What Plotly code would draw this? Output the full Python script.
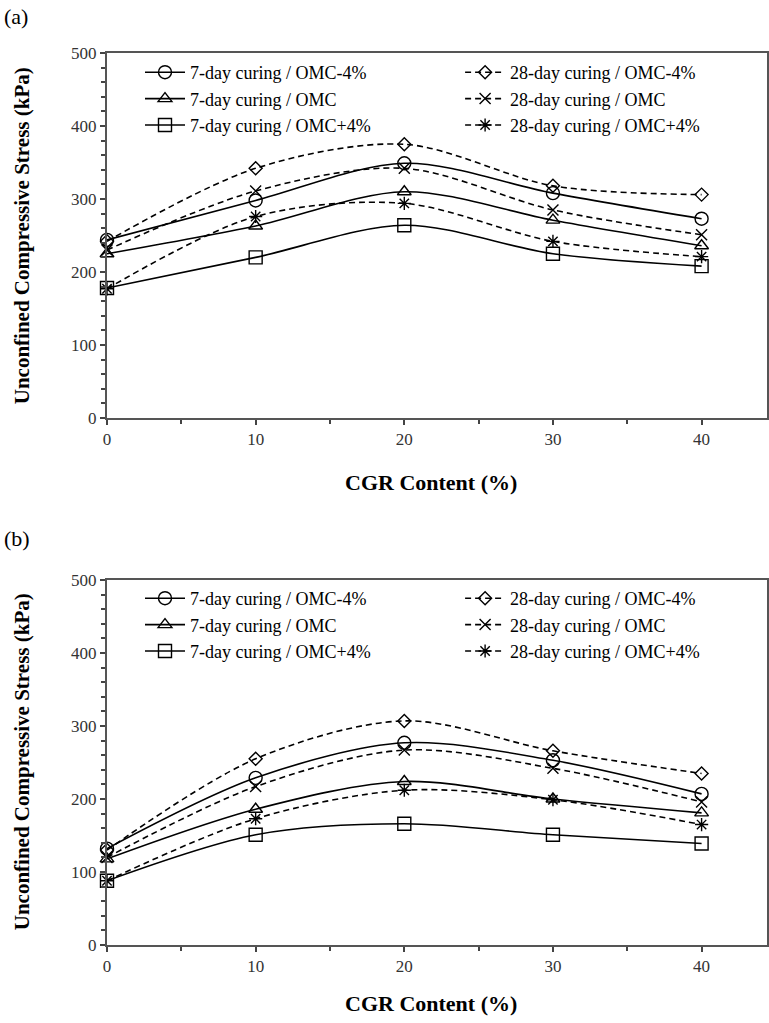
import plotly.graph_objects as go

cgr = [0, 10, 20, 30, 40]

# Panel (a)
a_7_m4 = [244, 298, 349, 308, 273]
a_7_0 = [225, 263, 310, 271, 236]
a_7_p4 = [178, 220, 264, 225, 208]
a_28_m4 = [242, 342, 375, 318, 306]
a_28_0 = [230, 311, 342, 285, 251]
a_28_p4 = [177, 276, 294, 242, 221]

# Panel (b)
b_7_m4 = [132, 229, 277, 253, 207]
b_7_0 = [118, 186, 224, 200, 181]
b_7_p4 = [88, 151, 166, 151, 139]
b_28_m4 = [130, 255, 307, 266, 235]
b_28_0 = [120, 217, 267, 242, 196]
b_28_p4 = [88, 173, 212, 199, 165]

names = ["7-day curing / OMC-4%", "7-day curing / OMC", "7-day curing / OMC+4%",
         "28-day curing / OMC-4%", "28-day curing / OMC", "28-day curing / OMC+4%"]
symbols = ["circle-open", "triangle-up-open", "square-open",
           "diamond-open", "x-thin-open", "asterisk-open"]
sizes = [13, 12, 13, 10, 11, 11]
dashes = ["solid", "solid", "solid", "6px,4px", "6px,4px", "6px,4px"]

FONT = "Liberation Serif, Times New Roman, serif"

fig = go.Figure()

def add_panel(series, yaxis, legs):
    for i, ys in enumerate(series):
        fig.add_trace(go.Scatter(
            x=cgr, y=ys, name=names[i], mode="lines+markers",
            xaxis="x" if yaxis == "y" else "x2", yaxis=yaxis,
            line=dict(color="black", width=1.6, dash=dashes[i], shape="spline", smoothing=0.9),
            marker=dict(symbol=symbols[i], size=sizes[i], color="black", line=dict(width=1.4, color="black")),
            cliponaxis=False,
            legend=legs[0] if i < 3 else legs[1],
        ))

add_panel([a_7_m4, a_7_0, a_7_p4, a_28_m4, a_28_0, a_28_p4], "y", ("legend", "legend2"))
add_panel([b_7_m4, b_7_0, b_7_p4, b_28_m4, b_28_0, b_28_p4], "y2", ("legend3", "legend4"))

H_TOP, H_BOT, HT = 53, 78, 1023
ph = HT - H_TOP - H_BOT
dom_a = [(945 - 418) / ph, 1.0]
dom_b = [0.0, 365 / ph]

axis_common = dict(showline=True, linecolor="#555", linewidth=2, mirror=True,
                   ticks="outside", tickcolor="#444", ticklen=5, tickwidth=1.5,
                   showgrid=False, zeroline=False,
                   tickfont=dict(family=FONT, size=17, color="#333"))

xax = dict(range=[0, 44.4], tickvals=[0, 10, 20, 30, 40],
           minor=dict(tickvals=[5, 15, 25, 35], ticks="outside", ticklen=4, tickcolor="#444"),
           **axis_common)
yax = dict(range=[0, 500], dtick=100,
           minor=dict(dtick=20, ticks="outside", ticklen=4, tickcolor="#444"),
           **axis_common)

legfont = dict(family=FONT, size=18, color="black")
def leg(x, y):
    return dict(x=x, y=y, xanchor="left", yanchor="top", font=legfont,
                bgcolor="rgba(0,0,0,0)", tracegroupgap=0, itemwidth=40,
                traceorder="normal")

ya_top = 1 - 1 / ph
yb_top = (945 - 580) / ph

fig.update_layout(
    width=769, height=1023,
    margin=dict(l=107, r=0, t=H_TOP, b=H_BOT),
    plot_bgcolor="white", paper_bgcolor="white",
    showlegend=True,
    xaxis=dict(domain=[0, 1], anchor="y", **xax),
    yaxis=dict(domain=dom_a, anchor="x", **yax),
    xaxis2=dict(domain=[0, 1], anchor="y2", **xax),
    yaxis2=dict(domain=dom_b, anchor="x2", **yax),
    legend=leg(0.05, ya_top),
    legend2=leg(0.535, ya_top),
    legend3=leg(0.05, yb_top),
    legend4=leg(0.535, yb_top),
)

def ann(text, x, y, size, bold=True, angle=0, xanchor="center"):
    fig.add_annotation(text=f"<b>{text}</b>" if bold else text,
                       x=x, y=y, xref="paper", yref="paper", showarrow=False,
                       textangle=angle, xanchor=xanchor, yanchor="middle",
                       font=dict(family=FONT, size=size, color="black"))

def py(pix):
    return (HT - H_BOT - pix) / ph

def px(pix):
    return (pix - 107) / 662

ann("CGR Content (%)", px(432), py(483), 22)
ann("CGR Content (%)", px(432), py(1003), 22)
ann("Unconfined Compressive Stress (kPa)", px(22), py(236), 21, angle=-90)
ann("Unconfined Compressive Stress (kPa)", px(22), py(762), 21, angle=-90)
ann("(a)", px(2), py(16), 22, bold=False, xanchor="left")
ann("(b)", px(2), py(538), 22, bold=False, xanchor="left")

fig.write_html("out.html")
